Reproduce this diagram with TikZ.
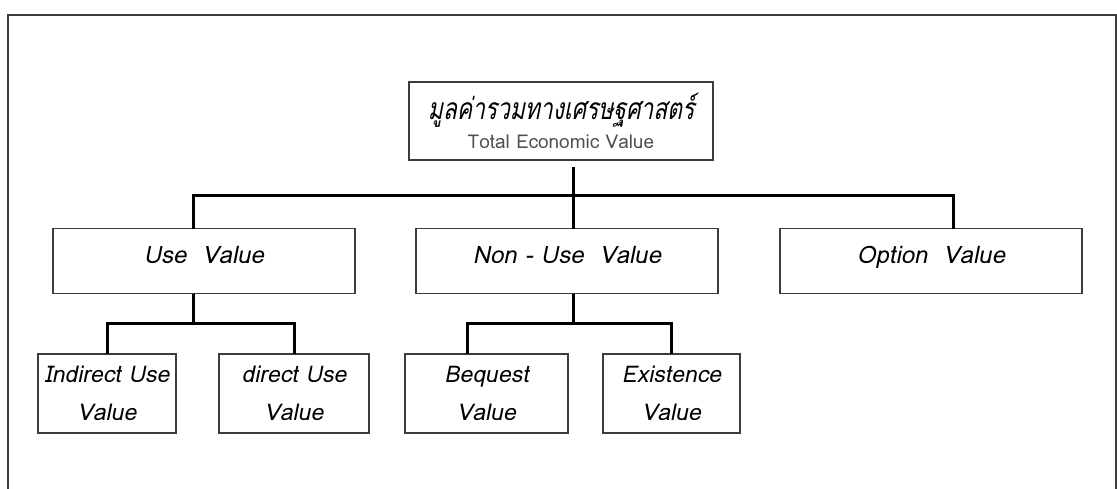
\documentclass[tikz,border=0pt]{standalone}
\usepackage{fontspec}
\newfontfamily\thaifont[Script=Thai]{Loma}
\newfontfamily\thaiit[Script=Thai,FakeSlant=0.2]{Loma}
\newfontfamily\thaititle[Script=Thai,FakeSlant=0.2,FakeStretch=0.76]{Loma}
\usetikzlibrary{positioning, calc}
\definecolor{boxgray}{RGB}{60,60,60}
\definecolor{textgray}{RGB}{80,80,80}

\begin{document}
\begin{tikzpicture}[
        x=1pt, y=-1pt,
        node distance=40pt,
        frame/.style={draw=boxgray, line width=1.4pt},
        link/.style={draw=black, line width=3pt},
        box/.style={rectangle, draw=boxgray, line width=1.2pt, inner sep=0pt, outer sep=0pt},
        topbox/.style={box, minimum width=304pt, minimum height=78pt, align=center, font=\fontsize{20}{25}\selectfont},
        midbox/.style={box, minimum width=302pt, minimum height=65pt, text height=34pt, text depth=30pt, font=\thaiit\fontsize{24}{28}\selectfont},
        lowbox/.style={box, minimum height=79pt, align=center, font=\thaiit\fontsize{23}{38}\selectfont}
    ]
        \useasboundingbox (0,0) rectangle (1117,488);
        \draw[frame] (8,15) rectangle (1116,500);

        % top level
        \node[topbox] (root) at (561,121) {{\thaititle\fontsize{30}{30}\selectfont มูลค่ารวมทางเศรษฐศาสตร์}\\[4pt]{\thaifont\fontsize{19}{19}\selectfont\color{textgray}Total Economic Value}};

        % second level
        \node[midbox] (use) at (204,261) {Use\ \ Value};
        \node[midbox, right=61pt of use] (nonuse) {Non - Use\ \ Value};
        \node[midbox, right=62pt of nonuse] (option) {Option\ \ Value};

        % third level
        \node[lowbox, minimum width=138pt] (indirect) at (107,393.5) {Indirect Use\\Value};
        \node[lowbox, minimum width=150pt, right=43pt of indirect] (direct) {direct Use\\Value};
        \node[lowbox, minimum width=163pt] (bequest) at (486.5,393.5) {Bequest\\Value};
        \node[lowbox, minimum width=137pt, right=35pt of bequest] (existence) {Existence\\Value};

        % connectors
        \draw[link] ([xshift=12pt,yshift=-7pt]root.south) -- ([xshift=6pt]nonuse.north);
        \draw[link] ([xshift=-11pt]use.north) -- ++(0,-33) -| ([xshift=22pt]option.north);
        \draw[link] ([xshift=-11pt]use.south) -- ++(0,30) coordinate (usejoint);
        \draw[link] (indirect.north) |- (usejoint) -| (direct.north);
        \draw[link] ([xshift=6pt]nonuse.south) -- ++(0,30) coordinate (nonusejoint);
        \draw[link] ([xshift=-19pt]bequest.north) |- (nonusejoint) -| (existence.north);
\end{tikzpicture}
\end{document}
